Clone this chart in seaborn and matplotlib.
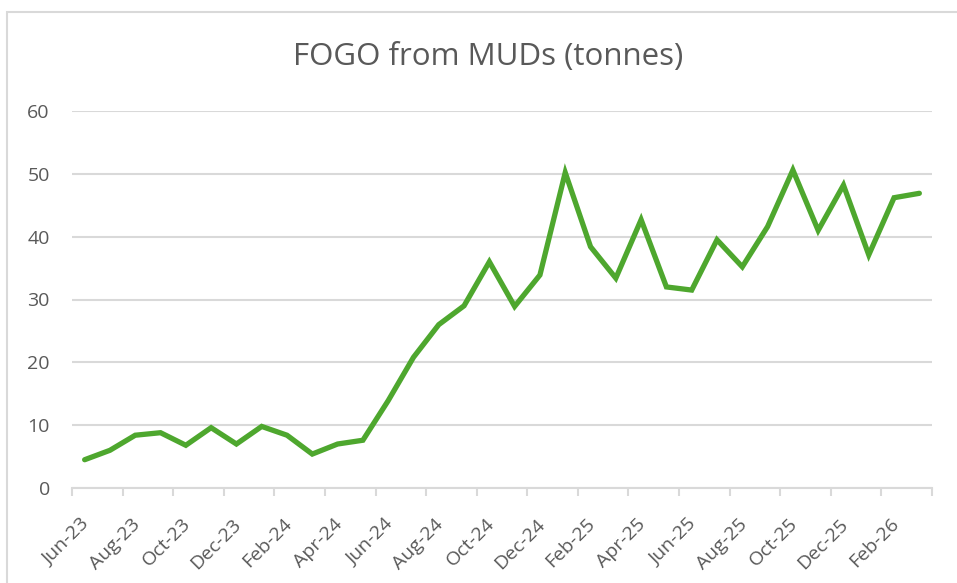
import numpy as np
import pandas as pd
import matplotlib
matplotlib.use("Agg")
import matplotlib.pyplot as plt
import matplotlib.transforms as mtransforms
from matplotlib.patches import Rectangle
from matplotlib.ticker import FixedLocator
import seaborn as sns

# months shown on the category axis (Jun-23 .. Mar-26)
months = ["Jun-23", "Jul-23", "Aug-23", "Sep-23", "Oct-23", "Nov-23", "Dec-23",
          "Jan-24", "Feb-24", "Mar-24", "Apr-24", "May-24", "Jun-24", "Jul-24",
          "Aug-24", "Sep-24", "Oct-24", "Nov-24", "Dec-24", "Jan-25", "Feb-25",
          "Mar-25", "Apr-25", "May-25", "Jun-25", "Jul-25", "Aug-25", "Sep-25",
          "Oct-25", "Nov-25", "Dec-25", "Jan-26", "Feb-26", "Mar-26"]

# tonnes per month
tonnes = [4.5, 6.0, 8.4, 8.8, 6.8, 9.6, 7.0, 9.8, 8.4, 5.4, 7.0, 7.6,
          13.9, 20.8, 26.0, 29.0, 36.0, 28.9, 33.9, 50.2, 38.4, 33.4,
          42.7, 32.0, 31.5, 39.5, 35.2, 41.6, 50.6, 41.0, 48.2, 37.1,
          46.2, 46.9]

y_ticks = [0, 10, 20, 30, 40, 50, 60]

df = pd.DataFrame({"month": months, "tonnes": tonnes})

sns.set_theme(style="white")
plt.rcParams["font.family"] = ["Open Sans", "DejaVu Sans"]

grey_txt = "#595959"
grid_col = "#d9d9d9"

W, H = 957, 583
fig = plt.figure(figsize=(W / 100, H / 100), dpi=100)
ax = fig.add_axes([72 / W, 1 - 488 / H, (932 - 72) / W, (488 - 111) / H])

sns.lineplot(data=df, x="month", y="tonnes", ax=ax, color="#4EA72E",
             linewidth=3.8, solid_capstyle="round", solid_joinstyle="miter", sort=False)

ax.set_xlim(-0.5, len(months) - 0.5)
ax.set_ylim(0, 60)
ax.set_yticks(y_ticks)
ax.set_yticklabels([str(t) for t in y_ticks], fontsize=14, color=grey_txt)
ax.yaxis.grid(True, color=grid_col, linewidth=1.5)
ax.set_axisbelow(True)

# labels every second month, tick marks between categories
lab_pos = list(range(0, len(months), 2))
ax.set_xticks(lab_pos)
ax.set_xticklabels([months[i] for i in lab_pos], rotation=45, ha="right", va="center",
                   rotation_mode="anchor", fontsize=14, color=grey_txt)
ax.tick_params(axis="x", which="major", bottom=True, length=0, pad=24)
shift = mtransforms.ScaledTranslation(2 / 100, 0, fig.dpi_scale_trans)
for lab in ax.get_xticklabels():
    lab.set_transform(lab.get_transform() + shift)
ax.xaxis.set_minor_locator(FixedLocator(np.arange(-0.5, len(months), 2)))
ax.tick_params(axis="x", which="minor", bottom=True, length=6, width=1.5, color=grid_col)
ax.tick_params(axis="y", length=0, pad=16)

for s in ["top", "right", "left"]:
    ax.spines[s].set_visible(False)
ax.spines["bottom"].set_color(grid_col)
ax.spines["bottom"].set_linewidth(1.5)

ax.set_xlabel("")
ax.set_ylabel("")

fig.text(488 / W, 1 - 57 / H, "FOGO from MUDs (tonnes)", ha="center", va="center",
         fontsize=22.5, color=grey_txt)

# chart area border (only left and top edges are inside the crop)
fig.patches.append(Rectangle((7 / W, -0.2), 1.2, 1.2 - 12 / H, transform=fig.transFigure,
                             fill=False, ec=grid_col, lw=1.5))

fig.savefig("out.png", dpi=100)
